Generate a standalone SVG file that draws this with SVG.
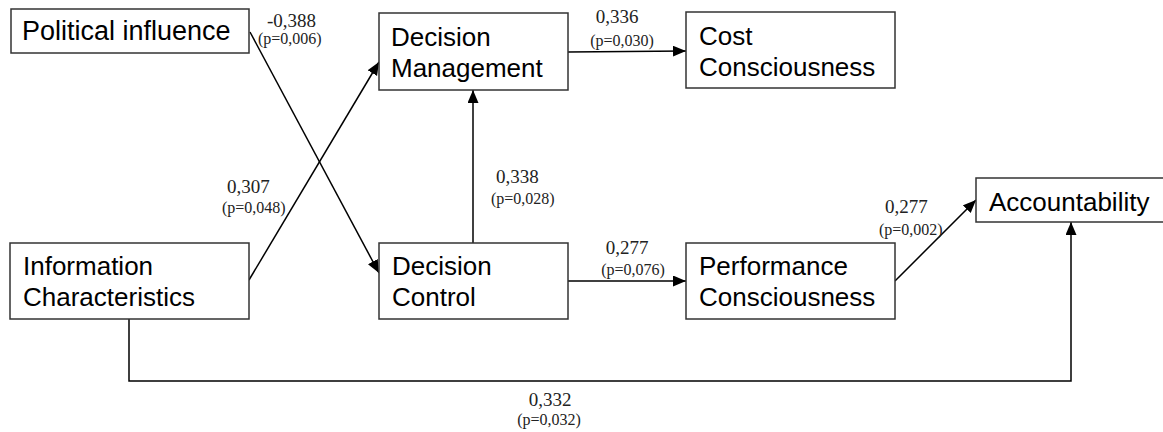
<svg xmlns="http://www.w3.org/2000/svg" width="1163" height="432" viewBox="0 0 1163 432">
<defs>
<marker id="arr" markerUnits="userSpaceOnUse" markerWidth="14" markerHeight="12" refX="13" refY="5.5" orient="auto">
<path d="M0,0 L13,5.5 L0,11 z" fill="#000"/>
</marker>
<style>
.box{fill:#fff;stroke:#333;stroke-width:1.5}
.t{font-family:"Liberation Sans",Arial,sans-serif;font-size:26px;fill:#000}
.c{fill:none;stroke:#000;stroke-width:1.5}
.v{font-family:"Liberation Serif","Times New Roman",serif;font-size:19px;fill:#222}
.p{font-family:"Liberation Serif","Times New Roman",serif;font-size:16px;fill:#222}
.m{text-anchor:middle}
</style>
</defs>
<rect width="1163" height="432" fill="#fff"/>
<g id="connectors">
<line class="c" x1="250" y1="32" x2="379" y2="273" marker-end="url(#arr)"/>
<line class="c" x1="249" y1="280" x2="379" y2="62" marker-end="url(#arr)"/>
<line class="c" x1="568" y1="52" x2="686" y2="51" marker-end="url(#arr)"/>
<line class="c" x1="473" y1="243" x2="473" y2="90" marker-end="url(#arr)"/>
<line class="c" x1="568" y1="281" x2="686" y2="281" marker-end="url(#arr)"/>
<line class="c" x1="895" y1="281" x2="976" y2="200" marker-end="url(#arr)"/>
<polyline class="c" points="129,319 129,381 1071,381 1071,222" marker-end="url(#arr)"/>
</g>
<g id="labels">
<text class="v" x="267" y="27">-0,388</text>
<text class="p" x="258" y="44">(p=0,006)</text>
<text class="v m" x="617" y="23">0,336</text>
<text class="p m" x="622" y="46">(p=0,030)</text>
<text class="v" x="227" y="193">0,307</text>
<text class="p" x="222" y="213">(p=0,048)</text>
<text class="v" x="496" y="183">0,338</text>
<text class="p" x="491" y="204">(p=0,028)</text>
<text class="v m" x="627" y="254">0,277</text>
<text class="p m" x="633" y="275">(p=0,076)</text>
<text class="v" x="885" y="213">0,277</text>
<text class="p" x="879" y="235">(p=0,002)</text>
<text class="v m" x="550" y="406">0,332</text>
<text class="p m" x="549" y="425">(p=0,032)</text>
</g>
<g id="political-influence">
<rect class="box" x="11" y="9" width="238" height="44"/>
<text class="t" x="22" y="40" style="font-size:27px">Political influence</text>
</g>
<g id="decision-management">
<rect class="box" x="379" y="13" width="189" height="77"/>
<text class="t" x="391" y="46">Decision</text>
<text class="t" x="391" y="77">Management</text>
</g>
<g id="cost-consciousness">
<rect class="box" x="686" y="12" width="209" height="76"/>
<text class="t" x="699" y="45">Cost</text>
<text class="t" x="699" y="76">Consciousness</text>
</g>
<g id="information-characteristics">
<rect class="box" x="10" y="243" width="239" height="76"/>
<text class="t" x="23" y="275">Information</text>
<text class="t" x="23" y="306">Characteristics</text>
</g>
<g id="decision-control">
<rect class="box" x="379" y="243" width="189" height="76"/>
<text class="t" x="392" y="275">Decision</text>
<text class="t" x="392" y="306">Control</text>
</g>
<g id="performance-consciousness">
<rect class="box" x="686" y="243" width="209" height="76"/>
<text class="t" x="699" y="275">Performance</text>
<text class="t" x="699" y="306">Consciousness</text>
</g>
<g id="accountability">
<rect class="box" x="976" y="178" width="200" height="44"/>
<text class="t" x="989" y="211">Accountability</text>
</g>
</svg>
